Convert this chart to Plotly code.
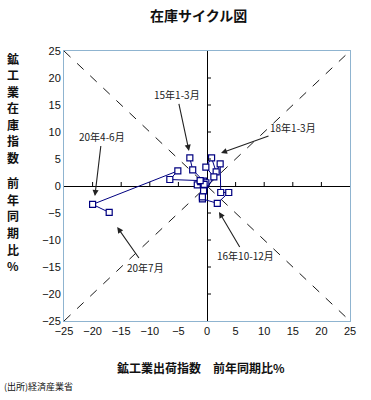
import plotly.graph_objects as go

# quarterly path: shipments yoy (x), inventories yoy (y)
periods = ["15Q1","15Q2","15Q3","15Q4","16Q1","16Q2","16Q3","16Q4","17Q1","17Q2","17Q3","17Q4",
           "18Q1","18Q2","18Q3","18Q4","19Q1","19Q2","19Q3","19Q4","20Q1","20Q2","20M7"]
ship = [-3.0, -2.5, -0.6, -1.7, -0.2, -0.6, -0.8, 1.8, 3.8, 2.4, 2.3, 1.6,
        0.8, -0.2, 1.2, -0.8, -1.1, -0.5, -1.2, -6.5, -5.1, -20.0, -17.1]
inv = [5.2, 3.0, 0.9, 0.2, 0.6, -0.9, -2.4, -3.2, -1.2, -1.2, 4.1, 2.6,
       5.2, 3.5, 1.7, -2.0, 0.8, 0.3, 1.0, 1.2, 2.8, -3.4, -4.9]

tick_vals = [-25, -20, -15, -10, -5, 0, 5, 10, 15, 20, 25]

# annotation labels: text, arrow tip (data), offset of text (px)
labels = [
    ("15年1-3月", -3.15, 6.5, -12, -56),
    ("18年1-3月", 2.45, 6.1, 72, -26),
    ("20年4-6月", -19.6, -1.85, 7, -59),
    ("20年7月", -15.7, -7.6, 28, 40),
    ("16年10-12月", 2.1, -4.8, 26, 44),
]

ytitle = "鉱工業在庫指数　前年同期比%"
xtitle = "鉱工業出荷指数　前年同期比%"
title = "在庫サイクル図"
source = "(出所)経済産業省"

CJK = "Noto Sans CJK JP"
NAVY = "#000080"

fig = go.Figure()

# diagonals
fig.add_trace(go.Scatter(x=[-25, 25], y=[-25, 25], mode="lines",
                         line=dict(color="black", width=0.9, dash="dash"), hoverinfo="skip"))
fig.add_trace(go.Scatter(x=[-25, 25], y=[25, -25], mode="lines",
                         line=dict(color="black", width=0.9, dash="dash"), hoverinfo="skip"))

fig.add_trace(go.Scatter(x=ship, y=inv, mode="lines+markers",
                         line=dict(color=NAVY, width=1),
                         marker=dict(symbol="square", size=6, color="white",
                                     line=dict(color=NAVY, width=1.2)),
                         cliponaxis=False))

shapes = []
for t in tick_vals:
    if t == 0 or abs(t) >= 25:
        continue
    shapes.append(dict(type="line", xref="x", yref="y", x0=t, x1=t,
                       ysizemode="pixel", yanchor=0, y0=0, y1=4,
                       line=dict(color="black", width=1)))
    shapes.append(dict(type="line", xref="x", yref="y", y0=t, y1=t,
                       xsizemode="pixel", xanchor=0, x0=0, x1=4,
                       line=dict(color="black", width=1)))

annotations = []
for txt, x, y, ax, ay in labels:
    annotations.append(dict(text=txt, x=x, y=y, ax=ax, ay=ay, xref="x", yref="y",
                            showarrow=True, arrowhead=2, arrowsize=1.1, arrowwidth=1.1,
                            arrowcolor="#222222",
                            font=dict(family=CJK, size=10, color="#222222")))

# vertical y-axis title, one char per line
ypos = 58.0
for ch in ytitle:
    if ch == "　":
        ypos += 8.5
        continue
    annotations.append(dict(text=ch, xref="paper", yref="paper", x=0, y=1,
                            xshift=-51, yshift=-(ypos - 51), xanchor="center", yanchor="middle",
                            showarrow=False, font=dict(family=CJK, size=12, color="#111111",
                                                        weight="bold")))
    ypos += 16.6

annotations.append(dict(text="<b>" + xtitle + "</b>", xref="paper", yref="paper",
                        x=0.48, y=0, yshift=-46, xanchor="center", yanchor="middle",
                        showarrow=False, font=dict(family=CJK, size=12, color="#111111")))
annotations.append(dict(text=source, xref="paper", yref="paper",
                        x=0, y=0, xshift=-62, yshift=-65, xanchor="left", yanchor="middle",
                        showarrow=False, font=dict(family=CJK, size=9, color="#111111")))
annotations.append(dict(text="<b>" + title + "</b>", xref="paper", yref="paper",
                        x=0.47, y=1, yshift=36, xanchor="center", yanchor="middle",
                        showarrow=False, font=dict(family=CJK, size=14, color="#111111")))

axis_common = dict(range=[-25, 25], tickvals=tick_vals, showgrid=False,
                   zeroline=True, zerolinecolor="black", zerolinewidth=1,
                   showline=True, linecolor="#8FB4D0", linewidth=1, mirror=True,
                   ticks="", tickfont=dict(family="Liberation Sans", size=11, color="#111111"))

fig.update_layout(
    width=371, height=400,
    margin=dict(l=64, r=21, t=51, b=79),
    plot_bgcolor="white", paper_bgcolor="white",
    showlegend=False,
    hovermode=False,
    xaxis=dict(**axis_common),
    yaxis=dict(**axis_common),
    shapes=shapes,
    annotations=annotations,
)

fig.write_html("out.html", config={"displayModeBar": False},
               post_script="document.body.style.margin='0';")
